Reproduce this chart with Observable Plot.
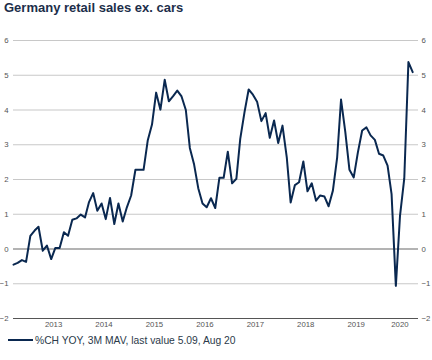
<!DOCTYPE html>
<html>
<head>
<meta charset="utf-8">
<script src="https://cdn.jsdelivr.net/npm/d3@7"></script>
<script src="https://cdn.jsdelivr.net/npm/@observablehq/plot@0.6"></script>
<style>
  html, body { margin: 0; padding: 0; background: #fff; }
  body { width: 432px; height: 360px; overflow: hidden; font-family: "Liberation Sans", Arial, sans-serif; }
  #title { font-size: 13px; font-weight: bold; color: #1c2e4a; line-height: 16px; height: 22px; padding-left: 4px; box-sizing: border-box; }
  #legend { height: 18px; line-height: 18px; font-size: 10.3px; color: #2b3a4a; padding-left: 8px; white-space: nowrap; }
  #legend .sw { display: inline-block; width: 25px; height: 2px; background: #0a2850; vertical-align: middle; margin-right: 2px; position: relative; top: -1px; }
  svg { display: block; }
</style>
</head>
<body>
<div id="title"></div>
<div id="chart"></div>
<div id="legend"></div>
<script>
const title = "Germany retail sales ex. cars";
const legendLabel = "%CH YOY, 3M MAV, last value 5.09, Aug 20";
const firstMonth = [2012, 9];   // Sep 2012, monthly observations to Aug 2020
const values = [
  -0.45, -0.40, -0.32, -0.37, 0.38, 0.53, 0.64, -0.05, 0.10, -0.29,
  0.03, 0.03, 0.48, 0.38, 0.84, 0.88, 0.99, 0.91, 1.34, 1.61,
  1.10, 1.31, 0.86, 1.47, 0.72, 1.31, 0.79, 1.20, 1.54, 2.28,
  2.28, 2.28, 3.12, 3.58, 4.50, 4.01, 4.87, 4.25, 4.40, 4.56,
  4.39, 4.00, 2.91, 2.43, 1.75, 1.31, 1.20, 1.46, 1.18, 2.05,
  2.05, 2.80, 1.89, 2.02, 3.17, 3.94, 4.59, 4.44, 4.24, 3.68,
  3.91, 3.20, 3.70, 3.05, 3.55, 2.64, 1.34, 1.84, 1.92, 2.52,
  1.66, 1.89, 1.39, 1.54, 1.51, 1.23, 1.68, 2.64, 4.30, 3.36,
  2.28, 2.06, 2.78, 3.41, 3.50, 3.27, 3.14, 2.74, 2.69, 2.40,
  1.58, -1.06, 0.95, 2.03, 5.38, 5.09
];
const yTicks = [-2, -1, 0, 1, 2, 3, 4, 5, 6];
const yearLabels = [2013, 2014, 2015, 2016, 2017, 2018, 2019, 2020];

document.getElementById("title").textContent = title;

const start = new Date(Date.UTC(firstMonth[0], firstMonth[1] - 1, 15));
const data = values.map((v, i) => ({ date: d3.utcMonth.offset(start, i), value: v }));
const domainEnd = new Date(Date.UTC(2020, 8, 26));
// year labels centred in the visible part of each year
const yearTicks = yearLabels.map(y => {
  const a = new Date(Date.UTC(y, 0, 1));
  let b = new Date(Date.UTC(y + 1, 0, 1));
  if (b > domainEnd) b = domainEnd;
  return new Date((+a + +b) / 2);
});

const chart = Plot.plot({
  width: 432,
  height: 310,
  marginTop: 18,
  marginBottom: 14,
  marginLeft: 13,
  marginRight: 14,
  style: { fontFamily: "'Liberation Sans', Arial, sans-serif", fontSize: "7.8px", color: "#555", background: "transparent", overflow: "visible" },
  x: { type: "utc", domain: [start, domainEnd] },
  y: { domain: [-2, 6] },
  marks: [
    Plot.ruleY(yTicks.filter(d => d !== 0 && d !== -2), { stroke: "#c8c8c8", strokeWidth: 1.2 }),
    Plot.ruleY([0], { stroke: "#9a9a9a", strokeWidth: 1.6 }),
    Plot.ruleY([-2], { stroke: "#555", strokeWidth: 1 }),
    Plot.axisY({ anchor: "left", ticks: yTicks, tickSize: 0, tickPadding: 5, label: null }),
    Plot.axisY({ anchor: "right", ticks: yTicks, tickSize: 0, tickPadding: 3, label: null }),
    Plot.axisX({ ticks: yearTicks, tickFormat: d => String(d.getUTCFullYear()), tickSize: 0, tickPadding: 3, label: null }),
    Plot.line(data, { x: "date", y: "value", stroke: "#0a2850", strokeWidth: 2, strokeLinejoin: "round" })
  ]
});
document.getElementById("chart").appendChild(chart);

const lg = document.getElementById("legend");
const sw = document.createElement("span");
sw.className = "sw";
lg.appendChild(sw);
lg.appendChild(document.createTextNode(legendLabel));
</script>
</body>
</html>
